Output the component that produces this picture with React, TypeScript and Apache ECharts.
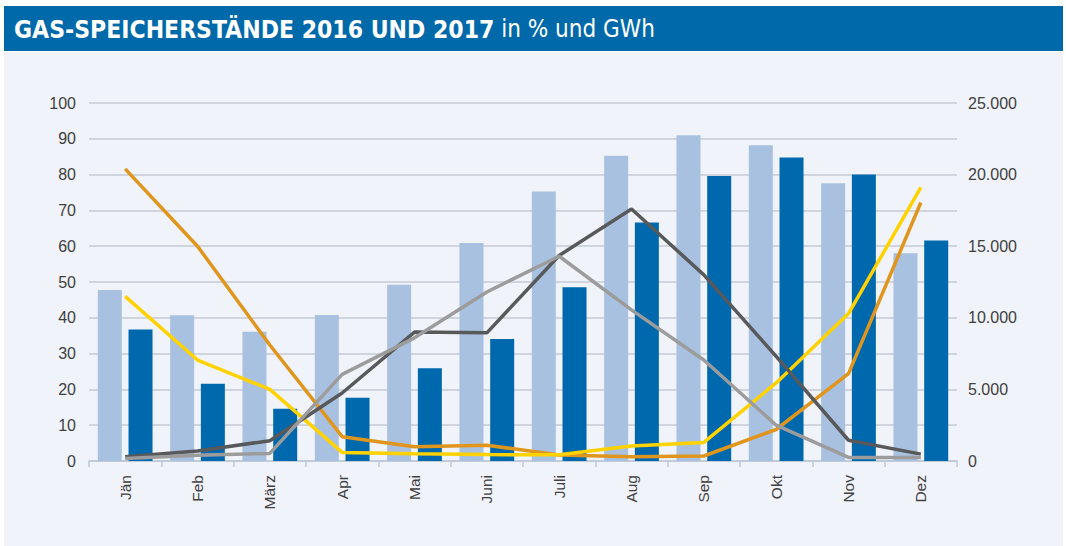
import React, { useEffect, useRef } from "react";
import * as echarts from "echarts";

const months = ["Jän", "Feb", "März", "Apr", "Mai", "Juni", "Juli", "Aug", "Sep", "Okt", "Nov", "Dez"];
const pct2016 = [47.8, 40.7, 36.1, 40.8, 49.2, 60.9, 75.3, 85.3, 91.0, 88.2, 77.6, 58.0];
const pct2017 = [36.7, 21.6, 14.6, 17.7, 25.9, 34.1, 48.5, 66.6, 79.6, 84.8, 80.0, 61.6];
const orangeGWh = [20400, 15000, 8100, 1700, 1000, 1100, 420, 300, 350, 2200, 6100, 18050];
const yellowGWh = [11500, 7050, 5000, 600, 500, 450, 430, 1050, 1300, 5450, 10300, 19100];
const darkGreyGWh = [300, 700, 1420, 4750, 9000, 8950, 14350, 17600, 13000, 7300, 1450, 480];
const lightGreyGWh = [180, 400, 530, 6050, 8600, 11800, 14300, 10550, 7050, 2500, 250, 250];
const leftTicks = { min: 0, max: 100, interval: 10 };
const rightTicks = { min: 0, max: 25000, interval: 2500 };

const fontFamily = "'Liberation Sans', Arial, sans-serif";
const titleFont = "'Liberation Sans Narrow', 'DejaVu Sans Condensed', Arial, sans-serif";

export default function App() {
  const ref = useRef<HTMLDivElement>(null);
  useEffect(() => {
    if (!ref.current) return;
    const chart = echarts.init(ref.current, null, { renderer: "svg" });
    const lineSeries = (name: string, data: number[], color: string) => ({
      name,
      type: "line",
      yAxisIndex: 1,
      data,
      symbol: "none",
      lineStyle: { color, width: 3.5 },
      itemStyle: { color },
      z: 5,
    });
    chart.setOption({
      animation: false,
      backgroundColor: "#ffffff",
      textStyle: { fontFamily },
      graphic: [
        { type: "rect", shape: { x: 4, y: 52, width: 1059, height: 494 }, style: { fill: "#F0F3F9" }, z: -10 },
        { type: "rect", shape: { x: 4, y: 6, width: 1059, height: 45 }, style: { fill: "#0069AA" }, z: -9 },
        {
          type: "text",
          x: 14,
          y: 29,
          style: {
            text: "{b|GAS-SPEICHERSTÄNDE 2016 UND 2017}{r| in % und GWh}",
            verticalAlign: "middle",
            rich: {
              b: { fontFamily: titleFont, fontWeight: "bold", fontSize: 24.5, fill: "#ffffff" },
              r: { fontFamily: titleFont, fontSize: 24, fill: "#ffffff" },
            },
          },
        },
      ],
      grid: { left: 89, right: 109, top: 103, bottom: 85, containLabel: false },
      xAxis: {
        type: "category",
        data: months,
        axisLine: { lineStyle: { color: "#BCC8D9", width: 1.5 } },
        axisTick: { show: true, alignWithLabel: false, length: 6, lineStyle: { color: "#BCC8D9", width: 1.5 } },
        axisLabel: { rotate: 90, color: "#404040", fontSize: 15.5, margin: 14, fontFamily },
      },
      yAxis: [
        {
          type: "value",
          ...leftTicks,
          axisLine: { show: false },
          axisTick: { show: false },
          splitLine: { lineStyle: { color: "#C4CAD4", width: 1.5 } },
          axisLabel: { color: "#404040", fontSize: 16, margin: 13, fontFamily },
        },
        {
          type: "value",
          ...rightTicks,
          axisLine: { show: false },
          axisTick: { show: false },
          splitLine: { show: false },
          axisLabel: {
            color: "#404040",
            fontSize: 16,
            margin: 11,
            fontFamily,
            formatter: (v: number) => (v % 5000 === 0 ? (v === 0 ? "0" : v.toLocaleString("de-DE")) : ""),
          },
        },
      ],
      series: [
        { name: "2016", type: "bar", data: pct2016, barWidth: 24, barGap: "28%", itemStyle: { color: "#A9C1E0" } },
        { name: "2017", type: "bar", data: pct2017, barWidth: 24, itemStyle: { color: "#0068AC" } },
        lineSeries("Orange", orangeGWh, "#E0951C"),
        lineSeries("Gelb", yellowGWh, "#FFD200"),
        lineSeries("Dunkelgrau", darkGreyGWh, "#58595B"),
        lineSeries("Hellgrau", lightGreyGWh, "#9C9C9C"),
      ],
    });
    return () => chart.dispose();
  }, []);
  return <div ref={ref} style={{ position: "absolute", left: 0, top: 0, width: 1066, height: 546 }} />;
}
